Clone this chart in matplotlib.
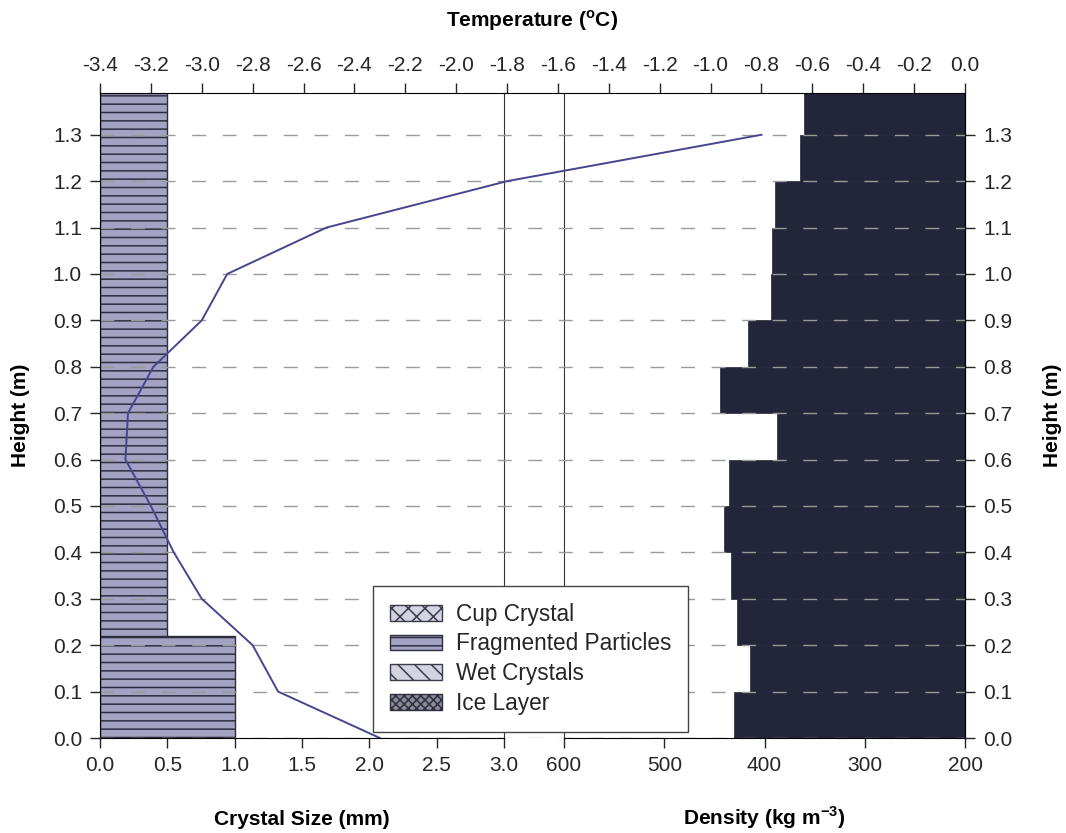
import matplotlib.pyplot as plt
from matplotlib.patches import Patch
import numpy as np

plt.rcParams['font.family'] = ['Liberation Sans', 'DejaVu Sans']
plt.rcParams['font.size'] = 15
plt.rcParams['mathtext.fontset'] = 'custom'
plt.rcParams['mathtext.rm'] = 'Liberation Sans'
plt.rcParams['mathtext.bf'] = 'Liberation Sans:bold'
plt.rcParams['hatch.linewidth'] = 1.1
plt.rcParams['text.color'] = '#262626'
plt.rcParams['xtick.color'] = '#262626'
plt.rcParams['ytick.color'] = '#262626'

# temperature profile (deg C) against height in the pit (m)
temp_height = [0.0, 0.1, 0.2, 0.3, 0.4, 0.5, 0.6, 0.7, 0.8, 0.9, 1.0, 1.1, 1.2, 1.3]
temperature = [-2.30, -2.70, -2.80, -3.00, -3.11, -3.20, -3.30, -3.29, -3.19,
               -3.00, -2.90, -2.51, -1.80, -0.80]

# crystal size layers (all fragmented particles)
crystal_bottom = [0.0, 0.22]
crystal_top = [0.22, 1.39]
crystal_size = [1.0, 0.5]

# density layers (kg m-3)
density_bottom = [0.0, 0.1, 0.2, 0.3, 0.4, 0.5, 0.6, 0.7, 0.8, 0.9, 1.0, 1.1, 1.2, 1.3]
density_top = [0.1, 0.2, 0.3, 0.4, 0.5, 0.6, 0.7, 0.8, 0.9, 1.0, 1.1, 1.2, 1.3, 1.39]
density = [430, 414, 427, 433, 440, 435, 388, 444, 416, 394, 393, 390, 365, 361]

height_ticks = np.round(np.arange(0, 1.31, 0.1), 1)
temp_ticks = np.round(np.arange(-3.4, 0.01, 0.2), 1)
size_ticks = [0.0, 0.5, 1.0, 1.5, 2.0, 2.5, 3.0]
density_ticks = [600, 500, 400, 300, 200]

W, H = 1066, 833
def box(x0, x1, y0, y1):
    return [x0 / W, 1 - y1 / H, (x1 - x0) / W, (y1 - y0) / H]

fig = plt.figure(figsize=(W / 100, H / 100), dpi=100, facecolor='white')

frag_face = '#a3a2c2'
frag_edge = '#2e2e42'
bar_dark = '#23263a'

# crystal size panel (left)
axc = fig.add_axes(box(100, 504, 93, 738), zorder=1)
axc.patch.set_visible(False)
axc.barh(crystal_bottom, crystal_size,
         height=np.array(crystal_top) - np.array(crystal_bottom),
         align='edge', color=frag_face, edgecolor=frag_edge, hatch='--', linewidth=1.0)
axc.set_xlim(0, 3.0)
axc.set_ylim(0, 1.39)
axc.set_xticks(size_ticks)
axc.set_xticklabels(['%.1f' % v for v in size_ticks])
axc.set_yticks([])
for s in ['top', 'left']:
    axc.spines[s].set_visible(False)
axc.spines['right'].set_color('#333333')
axc.tick_params(axis='x', direction='out', length=7, width=1, pad=6)
axc.set_xlabel('Crystal Size (mm)', fontweight='bold', labelpad=25)

# density panel (right)
axd = fig.add_axes(box(564, 965, 93, 738), zorder=1)
axd.patch.set_visible(False)
axd.barh(density_bottom, np.array(density) - 200, left=200,
         height=np.array(density_top) - np.array(density_bottom),
         align='edge', color=bar_dark, edgecolor=bar_dark, linewidth=0.5)
axd.set_xlim(600, 200)
axd.set_ylim(0, 1.39)
axd.set_xticks(density_ticks)
axd.set_yticks([])
for s in ['top', 'right']:
    axd.spines[s].set_visible(False)
axd.spines['left'].set_color('#333333')
axd.tick_params(axis='x', direction='out', length=7, width=1, pad=6)
axd.set_xlabel(r'Density (kg m$^{\mathbf{-3}}$)', fontweight='bold', labelpad=21)

# temperature axis over the whole width
ax = fig.add_axes(box(100, 965, 93, 738), zorder=2)
ax.patch.set_visible(False)
ax.set_xlim(-3.4, 0.0)
ax.set_ylim(0, 1.39)
ax.xaxis.tick_top()
ax.xaxis.set_label_position('top')
ax.set_xticks(temp_ticks)
ax.set_xticklabels(['%.1f' % v for v in temp_ticks])
ax.set_yticks(height_ticks)
ax.set_yticklabels(['%.1f' % v for v in height_ticks])
ax.spines['bottom'].set_visible(False)
ax.tick_params(direction='out', length=7, width=1, pad=6)
ax.set_xlabel(r'Temperature ($^{\mathbf{o}}$C)', fontweight='bold', labelpad=21)
ax.set_ylabel('Height (m)', fontweight='bold', labelpad=16)
ax.grid(axis='y', color='#9a9a9a', linewidth=1.0, linestyle=(0, (10, 12)))
ax.plot(temperature, temp_height, color='#46468f', linewidth=1.4)

ax2 = ax.secondary_yaxis('right')
ax2.set_yticks(height_ticks)
ax2.set_yticklabels(['%.1f' % v for v in height_ticks])
ax2.tick_params(direction='out', length=7, width=1, pad=6)
ax2.set_ylabel('Height (m)', fontweight='bold', labelpad=22)

handles = [
    Patch(facecolor='#d4d4e0', edgecolor='#3a3a4a', hatch='xx', label='Cup Crystal'),
    Patch(facecolor=frag_face, edgecolor=frag_edge, hatch='--', label='Fragmented Particles'),
    Patch(facecolor='#d4d4e0', edgecolor='#3a3a4a', hatch='\\\\', label='Wet Crystals'),
    Patch(facecolor='#8a8a9a', edgecolor='#2e2e3a', hatch='xxxx', label='Ice Layer'),
]
leg = ax.legend(handles=handles, loc='lower left', bbox_to_anchor=(0.3156, 0.0093),
                borderaxespad=0, fancybox=False, framealpha=1, edgecolor='#444444',
                fontsize=16.3, handlelength=2.3, handleheight=0.7, handletextpad=0.62,
                labelspacing=0.3, borderpad=0.75)
leg.get_frame().set_linewidth(1.0)

fig.savefig('out.png', dpi=100, facecolor='white')
